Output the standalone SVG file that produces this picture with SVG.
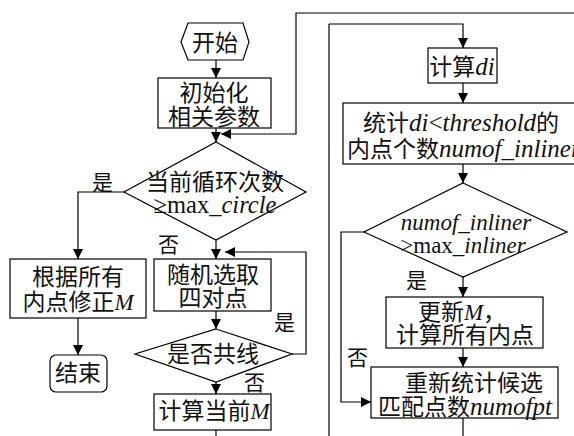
<svg xmlns="http://www.w3.org/2000/svg" width="574" height="436" viewBox="0 0 574 436">
<defs>
<marker id="ah" markerWidth="10" markerHeight="10" viewBox="0 0 10 10" refX="10" refY="5" orient="auto" markerUnits="userSpaceOnUse">
<path d="M0,0 L10,5 L0,10 Z" fill="#000"/>
</marker>
<style>
.s{fill:#fff;stroke:#000;stroke-width:1.2}
.c{fill:none;stroke:#000;stroke-width:1.2}
.a{marker-end:url(#ah)}
text{font-family:"Liberation Serif","Noto Sans CJK SC",serif;font-size:23px;fill:#111}
.m{text-anchor:middle}
.l{font-size:21px}
.i{font-style:italic}
.b{font-size:25px}
</style>
</defs>
<rect width="574" height="436" fill="#fff"/>
<g id="connectors">
<path class="c a" d="M216,60 V78"/>
<path class="c a" d="M216,128 V142"/>
<path class="c a" d="M574,13 H296 V134 H221"/>
<path class="c a" d="M124,192 H78 V259"/>
<path class="c a" d="M216,240 V259"/>
<path class="c a" d="M78,318 V355"/>
<path class="c a" d="M216,311 V329"/>
<path class="c a" d="M292,354 H306 V252 H225"/>
<path class="c a" d="M216,382 V394"/>
<path class="c" d="M216,430 V436"/>
<path class="c" d="M329,436 V24"/>
<path class="c a" d="M329,24 H463 V48"/>
<path class="c a" d="M463,83 V103"/>
<path class="c a" d="M463,164 V183"/>
<path class="c a" d="M463,277 V297"/>
<path class="c a" d="M463,348 V367"/>
<path class="c a" d="M364,232 H341 V402 H371"/>
<path class="c" d="M463,418 V436"/>
</g>
<g id="start">
<polygon class="s" points="181,42 188,23 243,23 249,42 243,60 188,60"/>
<text class="m" x="215" y="51">开始</text>
</g>
<g id="init">
<rect class="s" x="158" y="78" width="113" height="50"/>
<text class="m" x="214" y="101">初始化</text>
<text class="m" x="214" y="125">相关参数</text>
</g>
<g id="cond1">
<polygon class="s" points="216,142 306,192 216,240 124,192"/>
<text class="m" x="215" y="190">当前循环次数</text>
<text class="m" x="215" y="213" style="font-size:24.5px">≥max_<tspan class="i">circle</tspan></text>
</g>
<g id="fixM">
<rect class="s" x="10" y="259" width="136" height="59"/>
<text class="m" x="78" y="285">根据所有</text>
<text class="m" x="78" y="310">内点修正<tspan class="i">M</tspan></text>
</g>
<g id="end">
<rect class="s" x="50" y="355" width="57" height="37" rx="6"/>
<text class="m" x="78" y="381">结束</text>
</g>
<g id="sample">
<rect class="s" x="154" y="259" width="117" height="52"/>
<text class="m" x="213" y="283">随机选取</text>
<text class="m" x="213" y="306">四对点</text>
</g>
<g id="collinear">
<polygon class="s" points="216,329 292,354 216,382 135,354"/>
<text class="m" x="213" y="362">是否共线</text>
</g>
<g id="calcM">
<rect class="s" x="154" y="394" width="117" height="36"/>
<text class="m" x="214" y="419">计算当前<tspan class="i">M</tspan></text>
</g>
<g id="calcDi">
<rect class="s" x="428" y="48" width="69" height="35"/>
<text class="m" x="462" y="75">计算<tspan class="i b">di</tspan></text>
</g>
<g id="count">
<rect class="s" x="343" y="103" width="240" height="61"/>
<text x="363" y="131">统计<tspan class="i b">di</tspan><tspan class="b">&lt;</tspan><tspan class="i b">threshold</tspan>的</text>
<text x="347" y="157">内点个数<tspan class="i b">numof_inliner</tspan></text>
</g>
<g id="cond2">
<polygon class="s" points="463,183 567,232 463,277 364,232"/>
<text class="m i" x="466" y="230">numof_inliner</text>
<text class="m" x="463" y="253">&gt;max_<tspan class="i">inliner</tspan></text>
</g>
<g id="update">
<rect class="s" x="386" y="297" width="157" height="51"/>
<text class="m" x="462" y="320">更新<tspan class="i">M</tspan>，</text>
<text class="m" x="465" y="343">计算所有内点</text>
</g>
<g id="recount">
<rect class="s" x="371" y="367" width="187" height="51"/>
<text class="m" x="474" y="391">重新统计候选</text>
<text class="m" x="465" y="415">匹配点数<tspan class="i b">numofpt</tspan></text>
</g>
<g id="labels">
<text class="l" x="92" y="190">是</text>
<text class="l" x="158" y="252">否</text>
<text class="l" x="274" y="330">是</text>
<text class="l" x="244" y="390">否</text>
<text class="l" x="406" y="288">是</text>
<text class="l" x="347" y="365">否</text>
</g>
</svg>
